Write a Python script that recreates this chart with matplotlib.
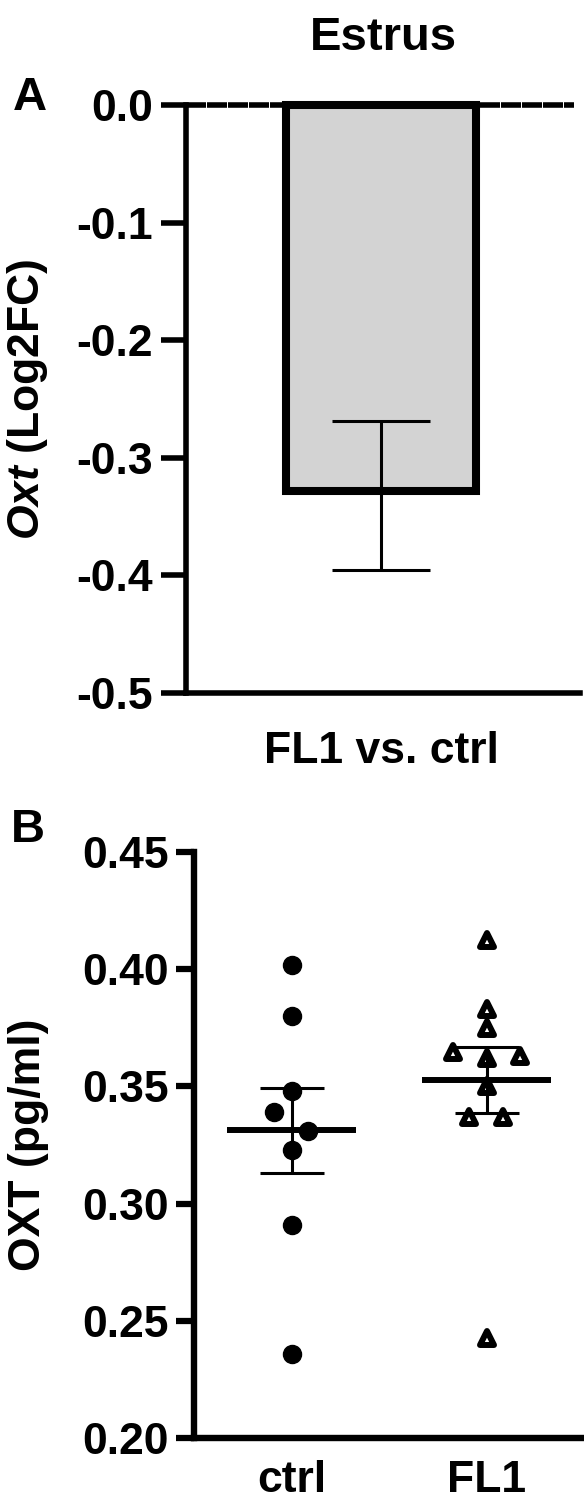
import matplotlib
matplotlib.use("Agg")
import matplotlib.pyplot as plt
from matplotlib.markers import MarkerStyle
import numpy as np

# ---------------- data ----------------
title_A = "Estrus"
categories_A = ["FL1 vs. ctrl"]
log2fc_mean = [-0.328]
log2fc_err_low = [0.067]
log2fc_err_high = [0.059]
yticks_A = [0.0, -0.1, -0.2, -0.3, -0.4, -0.5]

groups_B = ["ctrl", "FL1"]
ctrl_values = [0.402, 0.380, 0.348, 0.339, 0.331, 0.323, 0.291, 0.236]
fl1_values = [0.4125, 0.383, 0.375, 0.3647, 0.362, 0.363, 0.350, 0.337, 0.337, 0.2427]
yticks_B = [0.20, 0.25, 0.30, 0.35, 0.40, 0.45]

# horizontal spread of overlapping points (layout only)
ctrl_jitter = [0, 0, 0, -0.092, 0.087, 0, 0, 0]
fl1_jitter = [0, 0, 0, -0.174, 0, 0.174, 0, -0.092, 0.087, 0]

# ---------------- style ----------------
plt.rcParams["font.family"] = ["Liberation Sans", "DejaVu Sans"]
plt.rcParams["font.weight"] = "bold"
plt.rcParams["mathtext.fontset"] = "custom"
plt.rcParams["mathtext.it"] = "Liberation Sans:italic:bold"
plt.rcParams["mathtext.rm"] = "Liberation Sans:bold"

W, H = 584, 1505
fig = plt.figure(figsize=(W / 100, H / 100), dpi=100)

def frac(x0, y0, x1, y1):
    return [x0 / W, 1 - y1 / H, (x1 - x0) / W, (y1 - y0) / H]

FS = 32

# ---------------- panel A ----------------
axA = fig.add_axes(frac(186, 105, 580, 693))
xa = np.arange(len(categories_A))
axA.bar(xa, log2fc_mean, width=0.97, color="#d3d3d3", edgecolor="black",
        linewidth=5.8, zorder=2, clip_on=False)
axA.errorbar(xa, log2fc_mean, yerr=[log2fc_err_low, log2fc_err_high], fmt="none",
             ecolor="black", elinewidth=2.2, capsize=35, capthick=2.2, zorder=3)
axA.axhline(0, 0, 0.985, color="black", linewidth=4, linestyle=(0, (3.6, 0.18)),
            zorder=4, clip_on=False)
axA.set_xlim(-1, 1.02)
axA.set_ylim(-0.5, 0)
axA.set_yticks(yticks_A)
axA.set_yticklabels([f"{v:.1f}" for v in yticks_A], fontsize=FS, fontweight="bold")
axA.set_xticks(xa)
axA.set_xticklabels(categories_A, fontsize=FS, fontweight="bold")
axA.tick_params(axis="y", length=18, width=4, pad=6)
axA.tick_params(axis="x", length=0, pad=27)
for s in ["top", "right"]:
    axA.spines[s].set_visible(False)
for s in ["left", "bottom"]:
    axA.spines[s].set_linewidth(4)
axA.set_ylabel(r"$\mathit{Oxt}$ (Log2FC)", fontsize=FS, fontweight="bold")
axA.yaxis.set_label_coords(-0.345, 0.5)
fig.text(383 / W, 1 - 38 / H, title_A, ha="center", va="center",
         fontsize=34, fontweight="bold")
fig.text(30 / W, 1 - 98 / H, "A", ha="center", va="center", fontsize=34,
         fontweight="bold")

# ---------------- panel B ----------------
axB = fig.add_axes(frac(194, 852, 584, 1438))
xb = np.arange(len(groups_B))
series = [ctrl_values, fl1_values]
jitters = [ctrl_jitter, fl1_jitter]
tri = MarkerStyle("^", joinstyle="round")
for i, (vals, jit) in enumerate(zip(series, jitters)):
    vals = np.array(vals)
    xs = i + np.array(jit)
    if i == 0:
        axB.plot(xs, vals, "o", color="black", markersize=13, zorder=3,
                 linestyle="none", clip_on=False)
    else:
        axB.plot(xs, vals, marker=tri, markerfacecolor="white",
                 markeredgecolor="black", markeredgewidth=4.3, markersize=10.5,
                 zorder=3, linestyle="none", clip_on=False)
    m = vals.mean()
    sem = vals.std(ddof=1) / np.sqrt(len(vals))
    axB.hlines(m, i - 0.33, i + 0.33, color="black", linewidth=4.3, zorder=4)
    axB.errorbar([i], [m], yerr=[[sem], [sem]], fmt="none", ecolor="black",
                 elinewidth=2.2, capsize=23, capthick=2.2, zorder=4)

axB.set_xlim(-0.5, 1.5)
axB.set_ylim(0.20, 0.45)
axB.set_yticks(yticks_B)
axB.set_yticklabels([f"{v:.2f}" for v in yticks_B], fontsize=FS, fontweight="bold")
axB.set_xticks(xb)
axB.set_xticklabels(groups_B, fontsize=FS, fontweight="bold")
axB.tick_params(axis="y", length=13, width=4.5, pad=5)
axB.tick_params(axis="x", length=0, pad=16)
for s in ["top", "right"]:
    axB.spines[s].set_visible(False)
for s in ["left", "bottom"]:
    axB.spines[s].set_linewidth(4.6)
axB.set_ylabel("OXT (pg/ml)", fontsize=FS, fontweight="bold")
axB.yaxis.set_label_coords(-0.372, 0.5)
fig.text(28 / W, 1 - 830 / H, "B", ha="center", va="center", fontsize=34,
         fontweight="bold")

fig.savefig("out.png", dpi=100)
